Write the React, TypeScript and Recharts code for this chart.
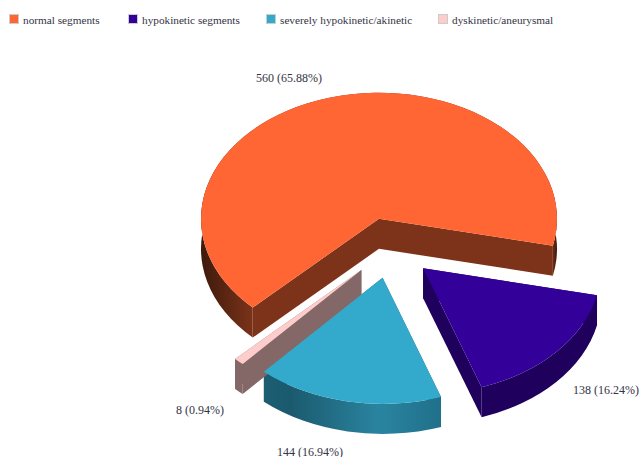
import React from 'react';
import { PieChart, Pie, Cell, Legend } from 'recharts';

const categories = ['normal segments', 'hypokinetic segments', 'severely hypokinetic/akinetic', 'dyskinetic/aneurysmal'];
const segmentCounts = [560, 138, 144, 8];
const topColors = ['#FF6633', '#330099', '#33AACC', '#FFCCCC'];

const data = categories.map((name, i) => ({ name, value: segmentCounts[i] }));
const total = segmentCounts.reduce((sum, v) => sum + v, 0);

const SQUASH = 0.708;
const DEPTH = 30;
const EXPLODE = 43;
const TEXT_COLOR = '#333344';
const FONT = '"Liberation Serif", serif';

// wall shading, dark/light along the width of each slice
const wallStops = [
  [[0, '#3e1a0c'], [0.15, '#7d3319'], [0.985, '#7d3319'], [1, '#3e1a0c']],
  [[0, '#1f005c'], [1, '#1f005c']],
  [[0, '#1c5e72'], [0.15, '#1b5a6e'], [0.65, '#2a84a0'], [1, '#20708a']],
  [[0, '#846868'], [1, '#846868']],
];
const faceColors = ['#7d3319', '#1f005c', '#1c5e72', '#846868'];

// where the value labels sit, by slice
const labelAnchors = [
  { x: 289, y: 82, anchor: 'middle' },
  { x: 573, y: 394, anchor: 'start' },
  { x: 310, y: 456, anchor: 'middle' },
  { x: 224, y: 414, anchor: 'end' },
];

const legendX = [9, 128, 266, 438];

// slice geometry from the angles the Pie worked out
const geometry = (props: any) => {
  const rad = Math.PI / 180;
  const { cx, cy, outerRadius: rx, startAngle, endAngle, midAngle } = props;
  const mid = midAngle ?? (startAngle + endAngle) / 2;
  const ry = rx * SQUASH;
  const ax = cx + EXPLODE * Math.cos(mid * rad);
  const ay = cy - EXPLODE * SQUASH * Math.sin(mid * rad);
  const pt = (a: number) => [ax + rx * Math.cos(a * rad), ay - ry * Math.sin(a * rad)];
  const large = Math.abs(startAngle - endAngle) > 180 ? 1 : 0;
  return { rx, ry, ax, ay, p1: pt(startAngle), p2: pt(endAngle), large };
};

const TopSlice = (props: any) => {
  const { rx, ry, ax, ay, p1, p2, large } = geometry(props);
  const d = `M${ax},${ay} L${p1[0]},${p1[1]} A${rx},${ry} 0 ${large} 1 ${p2[0]},${p2[1]} Z`;
  return <path d={d} fill={props.fill} stroke="none" />;
};

const WallSlice = (props: any) => {
  const { rx, ry, ax, ay, p1, p2, large } = geometry(props);
  const idx = categories.indexOf(props.name);
  const wall = `M${p1[0]},${p1[1]} A${rx},${ry} 0 ${large} 1 ${p2[0]},${p2[1]} L${p2[0]},${p2[1] + DEPTH} A${rx},${ry} 0 ${large} 0 ${p1[0]},${p1[1] + DEPTH} Z`;
  const face = (p: number[]) => `M${ax},${ay} L${p[0]},${p[1]} L${p[0]},${p[1] + DEPTH} L${ax},${ay + DEPTH} Z`;
  return (
    <g>
      <defs>
        <linearGradient id={`wall${idx}`} x1="0" y1="0" x2="1" y2="0">
          {wallStops[idx].map(([o, c]) => <stop key={o as number} offset={o as number} stopColor={c as string} />)}
        </linearGradient>
      </defs>
      <path d={face(p1)} fill={faceColors[idx]} />
      <path d={face(p2)} fill={faceColors[idx]} />
      <path d={wall} fill={`url(#wall${idx})`} />
    </g>
  );
};

const renderLabel = (props: any) => {
  const at = labelAnchors[props.index];
  return (
    <text x={at.x} y={at.y} textAnchor={at.anchor} fill={TEXT_COLOR} fontFamily={FONT} fontSize={12}>
      {`${props.value} (${((props.value / total) * 100).toFixed(2)}%)`}
    </text>
  );
};

const renderLegend = () => (
  <div style={{ position: 'relative', height: 30, width: 639, fontFamily: FONT, fontSize: 11.25, color: TEXT_COLOR }}>
    {categories.map((name, i) => (
      <div key={name} style={{ position: 'absolute', left: legendX[i], top: 13, whiteSpace: 'nowrap', lineHeight: '14px' }}>
        <span style={{ display: 'inline-block', width: 8, height: 8, background: topColors[i], border: '1px solid #cccccc', boxSizing: 'content-box', marginRight: 4 }} />
        {name}
      </div>
    ))}
  </div>
);

export default function App() {
  return (
    <div style={{ position: 'absolute', left: 0, top: 0 }}>
      <PieChart width={639} height={457} margin={{ top: 0, right: 0, bottom: 0, left: 0 }}>
        <Legend verticalAlign="top" align="left" content={renderLegend} wrapperStyle={{ left: 0, top: 0 }} />
        <Pie data={data} dataKey="value" nameKey="name" cx={391} cy={218} outerRadius={178} startAngle={224.8} endAngle={-135.2}
          legendType="none" isAnimationActive={false} stroke="none" shape={WallSlice} label={false} labelLine={false}>
          {data.map((d, i) => <Cell key={d.name} fill={topColors[i]} />)}
        </Pie>
        <Pie data={data} dataKey="value" nameKey="name" cx={391} cy={218} outerRadius={178} startAngle={224.8} endAngle={-135.2}
          isAnimationActive={false} stroke="none" shape={TopSlice} label={renderLabel} labelLine={false}>
          {data.map((d, i) => <Cell key={d.name} fill={topColors[i]} />)}
        </Pie>
      </PieChart>
    </div>
  );
}
